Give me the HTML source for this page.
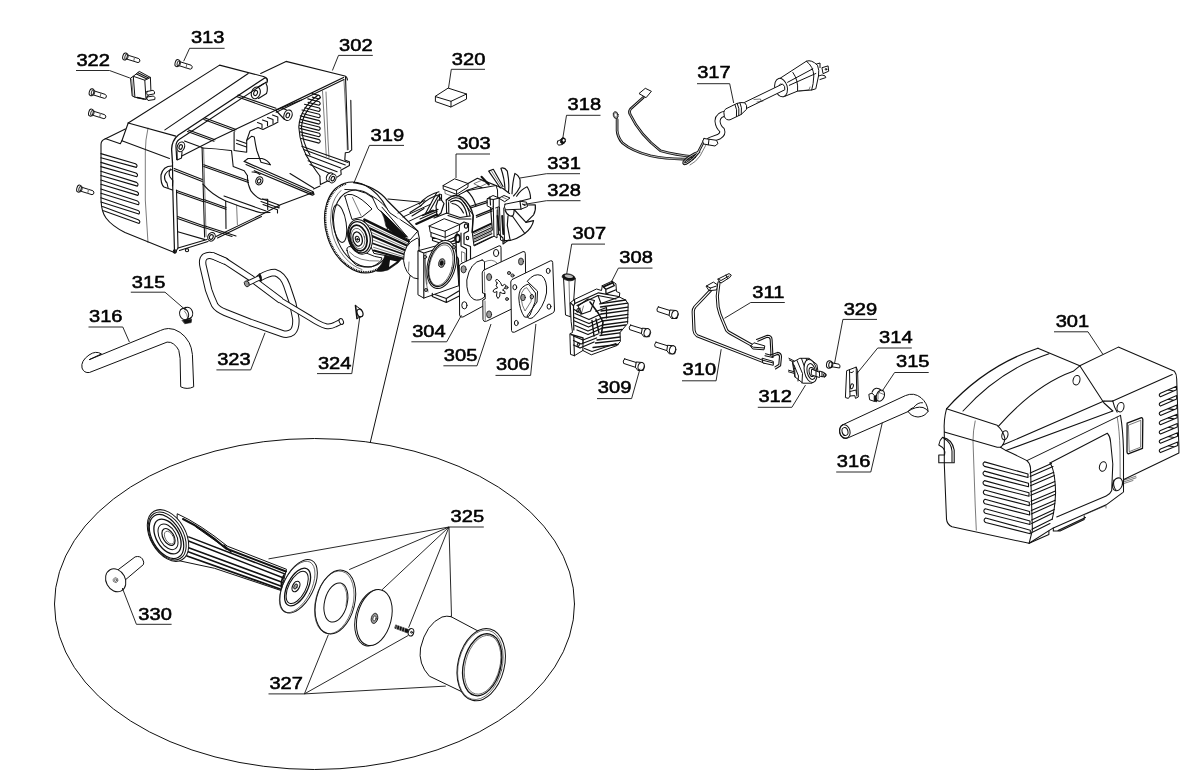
<!DOCTYPE html>
<html><head><meta charset="utf-8"><title>Parts diagram</title>
<style>
html,body{margin:0;padding:0;background:#fff;}
body{width:1191px;height:772px;overflow:hidden;font-family:"Liberation Sans",sans-serif;}
svg{display:block;}
.p{fill:none;stroke:#111;stroke-width:1;stroke-linejoin:round;stroke-linecap:round}
.w{fill:#fff;stroke:#111;stroke-width:1;stroke-linejoin:round;stroke-linecap:round}
.t{fill:none;stroke:#222;stroke-width:0.6;stroke-linejoin:round;stroke-linecap:round}
.k{fill:#111;stroke:#111;stroke-width:0.6;stroke-linejoin:round}
.g{fill:#999;stroke:#111;stroke-width:0.8;stroke-linejoin:round}
</style></head><body>
<svg width="1191" height="772" viewBox="0 0 1191 772">
<rect width="1191" height="772" fill="#fff"/>

<!-- 00_ellipse.svg -->
<g id="ellipse" class="p">
<ellipse cx="314.5" cy="604" rx="260" ry="165.5"/>
<path d="M370.3 442.3L410.3 275"/>
</g>

<!-- 10_housing302.svg -->
<g id="h302" class="p" style="stroke-width:1.1">
<!-- top of front section -->
<path d="M128.2 123L219.6 65.1L263.4 76.5Q267.8 78 267.4 81"/>
<path d="M164.9 129.9L248.2 73.5"/>
<path d="M128.2 123L175.8 136.1"/>
<!-- rim -->
<path d="M172.5 162.7L171.6 149.3Q171.8 140.5 178.4 135L265.1 77.7Q268.5 78.5 266.8 82.8" stroke-width="1.3"/>
<path d="M176.7 159.4L175.9 146Q176 141.5 179.5 139.2L266 82.2" stroke-width="1.1"/>
<!-- chamfer and left face -->
<path d="M128.2 123L121.9 140.7L169.5 158.4"/>
<path d="M125.3 128.9L105 139Q101 140.5 101 144.5L101 200Q101.5 212 106 218Q112 226 125 232.5L175 252.8"/>
<path d="M105.1 138.6L120.3 143.7L121.9 140.7"/>
<path d="M148 128.1Q145.3 140 145.3 152L145.3 200L148 242.6" class="t"/>
<!-- louvers -->
<g id="louv302" stroke-width="1.1">
<path d="M100.9 153.6L135.5 163.7Q138.1 165.3 136.3 167.4L100.9 157.8"/>
<path d="M100.9 162.4L136.0 173.0Q138.6 174.6 136.8 176.7L100.9 166.6"/>
<path d="M100.9 171.3L136.5 182.4Q139.1 184.0 137.3 186.1L100.9 175.5"/>
<path d="M100.9 180.1L137.0 191.7Q139.6 193.3 137.8 195.4L100.9 184.3"/>
<path d="M100.9 189.0L137.5 201.1Q140.1 202.7 138.3 204.8L100.9 193.2"/>
<path d="M100.9 197.8L138.0 210.4Q140.6 212.0 138.8 214.1L100.9 202.0"/>
<path d="M102.5 206.6L138.3 219.7Q140.9 221.3 139.1 223.4L103.5 210.8"/>
</g>
<!-- front rim vertical -->
<path d="M172.5 162.7L172.8 190L174.5 251.5" stroke-width="1.2"/>
<path d="M176.5 190L178 248"/>
<!-- latch -->
<path d="M172 166Q163 166 161 175Q160.5 184 164 187L172.5 190" stroke-width="1.2"/>
<path d="M172.5 169.5Q166 170.5 164.5 176.5Q164.5 181 167 183L168 187.5"/>
<path d="M170.5 169Q168 173 170 177L172.8 180.5L172.5 186"/>
<!-- bolt boss front left -->
<ellipse cx="180.9" cy="146.8" rx="3.6" ry="5" transform="rotate(20 180.9 146.8)"/>
<ellipse cx="180.7" cy="147" rx="1.6" ry="2.4" transform="rotate(20 180.7 147)"/>
<path d="M177 151.5L177.2 160L181.5 158L182 152"/>
<!-- deck front edge and ribs -->
<path d="M181.8 156L214.6 139.2L275.5 110.3L301.4 100"/>
<path d="M184.5 141L202.1 147.6"/>
<path d="M187.5 131.5L214 141.3M188.5 130L215 139.8"/>
<path d="M203.8 119.4L234.9 131.1M205 118L236 129.6"/>
<path d="M236.5 96.5L274.5 110M238 95L276 108.3"/>
<path d="M202.1 148Q215 148.5 230.7 150.5"/>
<!-- bolt boss top -->
<ellipse cx="255.8" cy="92.9" rx="4.3" ry="6" transform="rotate(20 255.8 92.9)"/>
<ellipse cx="255.6" cy="93" rx="1.8" ry="2.6" transform="rotate(20 255.6 93)"/>
<path d="M257.5 87.2L264 83.5M258.5 98.5L266.5 93.5Q268.5 88 266 83.5"/>
<!-- vertical wall -->
<path d="M202.1 148L204.6 237"/>
<path d="M203.6 148L206.1 236.5" class="t"/>
<!-- horizontal ribs front section -->
<path d="M174.2 168.6L202.3 179.6M174.2 170.4L202.3 181.4"/>
<path d="M176.5 190.5L202.8 199.8M176.5 192.3L202.8 201.6"/>
<path d="M177.5 216.6L204 225.9M177.5 218.4L204 227.7"/>
<path d="M177.8 231.8L205 239.6"/>
<!-- bottom edge front -->
<path d="M175 252.8L178 248L207 239.5M179.5 250.5L208 241.5"/>
<circle cx="174.8" cy="251.5" r="1.6"/><circle cx="187" cy="250.2" r="1.6"/>
<!-- boss bottom -->
<ellipse cx="211.5" cy="236.8" rx="3.6" ry="4.4" transform="rotate(25 211.5 236.8)"/>
<ellipse cx="211.3" cy="237" rx="1.8" ry="2.4" transform="rotate(25 211.3 237)"/>
<!-- bottom edge rear -->
<path d="M216 236.5L260.7 215L281 204.5L313 192.5M217.5 238L261.5 216.5"/>
<!-- step profile interior -->
<path d="M234.1 132L234.1 150.5L246.7 152.2L246.7 140.4L251.8 136.2L254.3 137Q255.5 145 256.8 150.5L261 162.3L270.3 164.8"/>
<path d="M231.5 150.5L233.2 166.5L244.2 170.7L247.5 175.8"/>
<path d="M236.5 140L246.5 143.5M236.5 143.5L246.5 147"/>
<!-- comb fins -->
<path d="M257.5 122.5L262 124.2L262 128M262.5 120L267.5 121.8L267.5 125.8M267.5 117.5L273 119.5L273 123.5M272.5 115L277.8 117L277.8 121"/>
<path d="M246.7 140.4L250 131L258 127.5L263 129.5L268 127L273.5 124.5L278 122"/>
<!-- boss deck right -->
<ellipse cx="288" cy="115.2" rx="4" ry="5.4" transform="rotate(20 288 115.2)"/>
<ellipse cx="287.8" cy="115.3" rx="1.7" ry="2.5" transform="rotate(20 287.8 115.3)"/>
<path d="M276 110.5L284.5 119.5M281.5 107.8L286.5 110"/>
<!-- rear section top -->
<path d="M260.7 73.5L286 61.4L344.9 76Q347 76.5 347.5 80"/>
<path d="M275.5 110.3L343.5 77.5" stroke-width="1.3"/>
<path d="M276.2 112.2L344 79.5"/>
<!-- rear right side -->
<path d="M345.5 77L348 149.5"/>
<path d="M344 80.3L346.7 130L347.3 150" class="t"/>
<path d="M350.8 100.4L351.7 149.9L348.9 152.2L345.3 152.7L344.8 159.9L349.4 161.7L349.4 165.4L340.8 170.3L341.2 174.4L337.1 177.1"/>
<path d="M322.5 91L324.9 130L326.3 156.3" class="t"/>
<path d="M326 92L328 140L329 157.5" class="t"/>
<!-- fan grille arc -->
<path d="M318.2 95Q300 108 298.8 127Q300 148 311.5 164Q316 171 319.9 176"/>
<path d="M320.5 97.5Q303 110 301.5 127Q302.5 143 310 155"/>
<!-- grille bars -->
<g id="fanbars" stroke-width="1.1">
<path d="M312.0 93.6L319.3 95.5Q321.3 97.4 319.0 99.0L312.3 97.1"/>
<path d="M307.8 98.9L319.3 101.8Q321.3 103.7 319.0 105.2L308.1 102.4"/>
<path d="M304.5 104.3L319.3 108.0Q321.3 110.0 319.0 111.5L304.8 107.8"/>
<path d="M302.0 110.0L319.3 114.3Q321.3 116.2 319.0 117.8L302.3 113.5"/>
<path d="M300.3 115.9L319.3 120.6Q321.3 122.5 319.0 124.1L300.6 119.4"/>
<path d="M299.4 122.0L319.3 127.0Q321.3 128.8 319.0 130.4L299.7 125.5"/>
<path d="M299.8 128.4L319.3 133.2Q321.3 135.2 319.0 136.8L300.1 131.9"/>
<path d="M301.1 135.0L319.3 139.6Q321.3 141.5 319.0 143.1L301.4 138.5"/>
</g>
<!-- rear bottom rails -->
<path d="M301.8 146.3L348 162.6M303.6 149.5L345.3 164.9M305.4 154.5L340.8 168.1M308.1 160.8L337.1 171.7M309.9 164.5L329.9 173.5"/>
<ellipse cx="329.9" cy="177.1" rx="3.3" ry="4.6" transform="rotate(25 329.9 177.1)"/>
<ellipse cx="332.6" cy="178.5" rx="3.3" ry="4.6" transform="rotate(25 332.6 178.5)" class="w"/>
<ellipse cx="332.8" cy="178.6" rx="1.6" ry="2.3" transform="rotate(25 332.8 178.6)"/>
<path d="M319.9 176.2L320.4 184.4L327.2 181.2M320 186L313.6 188.9"/>
<path d="M290 173.5L313.6 188" />
<!-- middle rail -->
<path d="M244.2 161.4L313.2 191.8L314 194.5L312.4 195.1L254.3 170.7" stroke-width="1.2"/>
<path d="M246 164.5L312.6 193.6"/>
<path d="M248 158.5L262 158.5Q268 160 270.3 164.8M244.2 161.4L248 158.5"/>
<ellipse cx="259.3" cy="180.8" rx="3.4" ry="4.2" transform="rotate(25 259.3 180.8)"/>
<ellipse cx="259.1" cy="181" rx="1.6" ry="2.2" transform="rotate(25 259.1 181)"/>
<path d="M247.5 175.8Q247 183 250.9 190.9Q255 196.5 261 199.3L267.7 199.3L267.7 209.5"/>
<path d="M252 172Q256 171.5 260 174.5"/>
<path d="M261 201.5L279 208L279 205L262.5 199M263 204.5L277.5 209.8L277.5 213"/>
<!-- lower rails -->
<path d="M203.8 164.8L248 180.5M203.8 166.6L248.5 182.5"/>
<path d="M202.9 184.2Q212 195 225.7 201Q243 208 261 212.8L270 212.5"/>
<path d="M225.7 201L226 228.5"/>
<path d="M204.5 199.8L226 207.5M204.5 201.6L226 209.3"/>
<path d="M224 196L266 211"/>
<path d="M236.6 205.2L237.4 224.6" class="t"/>
<path d="M205 225.9L236 236M205 227.7L232 236.5"/>
</g>

<!-- 20_housing301.svg -->
<g id="h301" class="p" style="stroke-width:1.05">
<!-- front curved top -->
<path d="M946.5 408.8Q985 366 1037.9 348.2" stroke-width="1.2"/>
<path d="M963 411Q1000 370 1049 353.7"/>
<path d="M998.3 426.4Q1035 385 1073.2 371.3L1079.8 365.8"/>
<path d="M1037.9 348.2L1079.8 365.8"/>
<path d="M946.5 408.8L997.2 425.3Q1003.5 431 1004.9 438.5Q1004.5 444 1000.5 447.3"/>
<path d="M946.5 408.8Q943.5 420 944.3 431.9L997.2 447.3L1000.5 447.3"/>
<!-- junction slanted -->
<path d="M1079.8 365.8L1104 403L1112.8 411"/>
<!-- shoulder lines -->
<path d="M1002.7 445.1L1104 401.1"/>
<path d="M1000.5 447.3L1006 450.6L1112.8 411"/>
<path d="M1006 450.6Q1018 456 1026.9 460.6L1120.5 415.4"/>
<!-- body -->
<path d="M944.3 431.9L944.3 464L946.5 519.1Q947 524.5 952 526.8L1029.1 543.3L1053.3 527.9L1106.2 504.8L1122.7 492.7"/>
<path d="M975.2 420.9Q973 431 973 440.7L975.2 505L976.3 530.1" class="t"/>
<path d="M1026.9 460.6Q1030 463 1030.5 468L1032.4 530.1L1029.1 543.3"/>
<!-- latch -->
<path d="M942.5 437.4Q952 439 954.2 450L954.2 462.8L938.8 462.8L938.8 455L944.5 455Q946.5 449 938.8 445Q939.5 440 942.5 437.4Z" stroke-width="1.1"/>
<path d="M944 438.5Q951 442 952 451L952 462"/>
<!-- circles -->
<ellipse cx="1004.9" cy="435.2" rx="3" ry="4.6" transform="rotate(15 1004.9 435.2)"/>
<ellipse cx="1076.5" cy="380.2" rx="3.4" ry="4.8" transform="rotate(15 1076.5 380.2)"/>
<ellipse cx="1120.5" cy="407.2" rx="3.4" ry="4.8" transform="rotate(15 1120.5 407.2)"/>
<ellipse cx="1102.9" cy="466.5" rx="3.4" ry="4.8" transform="rotate(15 1102.9 466.5)"/>
<ellipse cx="1117.5" cy="484.3" rx="4.8" ry="6.6" transform="rotate(20 1117.5 484.3)"/>
<path d="M1114 480Q1112.5 486 1116 490"/>
<path d="M1122.7 480.6L1135.9 476.2M1122.9 482.2L1136.1 477.8M1123 483.8L1133 480.5" class="t"/>
<!-- side strip -->
<path d="M1120.5 415.4Q1123 430 1123.5 450L1123.5 492"/>
<path d="M1117.2 417Q1119.5 430 1120 450L1120.2 478" class="t"/>
<!-- side panel -->
<path d="M1050 463L1107.3 433.2Q1110.5 437 1110.6 442L1112.8 464L1111.7 490.5Q1110 494.5 1106.2 496L1056.7 516.9"/>
<path d="M1050 463Q1055 470 1055.6 492.7Q1055 508 1052.2 519.1"/>
<!-- grille front -->
<g id="g301a" stroke-width="1.1">
<path d="M984.5 461.9L1028 474L1028 477.5L984.5 466.4Q981.5 464 984.5 461.9ZM1030.2 473L1051.5 463.5M1030.2 476.5L1053 466.5"/>
<path d="M984.5 471.1L1028.5 483.3L1028.5 486.8L984.5 475.6Q981.5 473.2 984.5 471.1ZM1030.5 482.3L1053.8 472.3M1030.5 485.8L1054.3 475.6"/>
<path d="M984.5 480.6L1029 492.8L1029 496.3L984.5 485.1Q981.5 482.7 984.5 480.6ZM1030.8 491.8L1054.8 481.6M1030.8 495.3L1055.2 484.9"/>
<path d="M984.8 490L1029.3 502.2L1029.3 505.7L984.8 494.5Q981.8 492.1 984.8 490ZM1031 501.2L1055.4 490.9M1031 504.7L1055.4 494.2"/>
<path d="M985 499.3L1029.6 511.5L1029.6 515L985 503.8Q982 501.4 985 499.3ZM1031.3 510.5L1055.2 500.2M1031.3 514L1054.8 503.5"/>
<path d="M985.3 508.8L1030 521L1030 524.5L985.3 513.3Q982.3 510.9 985.3 508.8ZM1031.6 520L1054.3 509.5M1031.6 523.5L1053.6 512.8"/>
<path d="M985.6 518L1030.3 530.2L1030.3 533.7L985.6 522.5Q982.6 520.1 985.6 518ZM1031.9 529.2L1052.5 519M1031.9 532.5L1050 523.5"/>
</g>
<!-- feet -->
<path d="M1053.3 527.9L1053.3 531L1060 531L1084.2 519.5L1084.2 515.8M1058 530.5L1085.5 517.5"/>
<path d="M1029.1 543.3L1048.9 534.5L1048.9 531"/>
<path d="M1086 514L1106 505.5L1106 508" class="t"/>
<!-- rear section -->
<path d="M1079.8 365.8L1118.3 347.1L1174.5 371.3Q1176.8 374 1176.7 379L1178.9 447.3L1178.9 453L1123.8 479.5"/>
<path d="M1112.8 401.1L1172.3 374.6"/>
<path d="M1112.8 401.1Q1114 407 1117.2 412.1"/>
<path d="M1104 401.1L1112.8 401.1"/>
<!-- window -->
<path d="M1127.1 423.1L1141.5 417.6Q1142.8 417.8 1142.8 419.5L1142.5 448.4L1128.2 453.9Q1127 453.5 1127 452Z" stroke-width="1.3"/>
<path d="M1128.8 425L1140.8 420.3L1140.6 447.2L1129.6 451.5Z" class="t"/>
<!-- grille rear -->
<g id="g301b" stroke-width="1.1">
<path d="M1160.5 393.2L1176.5 386.3L1176.5 389.8L1160.5 396.8Q1158 395 1160.5 393.2ZM1168 390L1174 391"/>
<path d="M1160.5 402.5L1176.7 395.6L1176.7 399.1L1160.5 406.1Q1158 404.3 1160.5 402.5ZM1168 399.3L1174 400.3"/>
<path d="M1160.5 411.8L1176.9 404.9L1176.9 408.4L1160.5 415.4Q1158 413.6 1160.5 411.8ZM1168 408.6L1174 409.6"/>
<path d="M1160.5 421.1L1177.1 414.2L1177.1 417.7L1160.5 424.7Q1158 422.9 1160.5 421.1ZM1168 417.9L1174 418.9"/>
<path d="M1160.5 430.4L1177.3 423.5L1177.3 427L1160.5 434Q1158 432.2 1160.5 430.4ZM1168 427.2L1174 428.2"/>
<path d="M1160.5 439.7L1177.5 432.8L1177.5 436.3L1160.5 443.3Q1158 441.5 1160.5 439.7ZM1168 436.5L1174 437.5"/>
<path d="M1160.5 449L1177.7 442.1L1177.7 445.6L1160.5 452.6Q1158 450.8 1160.5 449ZM1168 445.8L1174 446.8"/>
</g>
</g>

<!-- 30_flywheel.svg -->
<g id="fly" class="p">
<!-- belt guard line / motor mount behind -->
<path d="M388 199L419.3 202"/>
<path d="M398 213L425 200.5M403 217L430 204.5M408.5 221.5L433 210"/>
<!-- flywheel outer -->
<ellipse cx="359" cy="227.5" rx="33" ry="46.5" transform="rotate(-18 359 227.5)" class="w" stroke-width="1.1"/>
<path d="M346.0 183.8A32.1 45.6 -18 1 0 385.8 261.1" stroke-width="1.9" stroke-dasharray="1 0.8" stroke-linecap="butt"/>
<path d="M341 190.5A30.5 44 -18 0 0 362 269.5" class="t"/>
<ellipse cx="362" cy="228.5" rx="27" ry="39.5" transform="rotate(-18 362 228.5)"/>
<path d="M344.8 189.4Q368 188 382 207Q390 222 386.5 233"/>
<!-- spoke openings -->
<ellipse cx="339.6" cy="223.6" rx="6.6" ry="19" transform="rotate(-9 339.6 223.6)"/>
<path d="M344.8 196.1Q347 193.5 352.2 194.6Q362 198 372 209L362 217L352 219.5Q348 207 344.8 196.1Z"/>
<path d="M352.5 197.5L361 215.5" class="t"/>
<path d="M347 250.4Q346 247 350 246.5L374.6 256.4L382 257.9Q381 263 371.6 266.8Q364 268 356.7 265.3Q349 260 347 250.4Z"/>
<path d="M349.5 252Q358 262 379 261" class="t"/>
<!-- belt dark region -->
<path d="M372 196Q384 203 390 213L417.8 231.1L410 240L404 237.5Q394 222 378 209Z" fill="#fff"/>
<path d="M381 211L407.4 237L399 238.5L386 226.5Q384.5 217 381 211Z" class="k"/>
<path d="M353.7 182.7Q376 186 388 201.3L417.8 231.1" stroke-width="1.3"/>
<path d="M382 207.2L407.4 237"/>
<path d="M386 204L412 234" stroke="#fff" stroke-width="0.7"/>
<!-- lower belt/flywheel dark -->
<path d="M385 255L402 258.5L398 263L388 270Q380 272.5 376 271Q383 264 385 255Z" class="k"/>
<path d="M390 260L397 261.5L389 267Z" fill="#fff" stroke="none"/>
<!-- conrod -->
<path d="M364.4 219.7L408.9 241.3L403.5 258.8L373.9 253.4L368 240Z" class="w"/>
<path d="M364.4 219.7L408.9 241.3" stroke-width="2.6"/>
<path d="M370 228.5L407.3 245.8" stroke-width="2.2"/>
<path d="M372 236L405.8 250.5" stroke-width="2.2"/>
<path d="M373 243.5L404.6 254.5" stroke-width="1.8"/>
<path d="M373.9 250.5L403.5 258.8" stroke-width="2"/>
<path d="M368 224.8L408 243.8M371.5 232.5L406.5 248.3M372.8 240L405 252.7M373.5 247.3L404 256.8" class="t"/>
<!-- hub -->
<ellipse cx="360" cy="236.8" rx="12" ry="17.6" transform="rotate(-14 360 236.8)" class="w" stroke-width="1.8"/>
<ellipse cx="359.3" cy="237.2" rx="10.6" ry="15.9" transform="rotate(-14 359.3 237.2)" stroke-width="1.3"/>
<ellipse cx="358.4" cy="238" rx="8.4" ry="13" transform="rotate(-14 358.4 238)" stroke-width="1.8"/>
<ellipse cx="358" cy="238.5" rx="6.6" ry="10.4" transform="rotate(-14 358 238.5)" class="t"/>
<ellipse cx="357.6" cy="239" rx="4.6" ry="7.2" transform="rotate(-14 357.6 239)" stroke-width="1.3"/>
<ellipse cx="357.4" cy="239.2" rx="2" ry="3" transform="rotate(-14 357.4 239.2)"/>
<circle cx="357.4" cy="239.3" r="0.8" fill="#111"/>
<!-- piston dome -->
<path d="M416.8 238.2Q403 244 403.6 260.8Q405 273 413.7 277.9L419 279L419 240Z" class="w"/>
<path d="M409 262L408.5 271" class="t"/>
</g>

<!-- 31_motor.svg -->
<g id="motor" class="p" style="stroke-width:1.15">
<!-- mount plate lines from flywheel to motor -->
<path d="M417.8 231.1Q420 238 419.5 246"/>
<path d="M410 212.5L421.4 205.2M412 216L424 208.5"/>
<path d="M416.2 223.9L436.9 214.6" stroke-width="2.2"/>
<path d="M422.4 215.6L438 209.4M420 219L437 211.5"/>
<!-- bracket arcs -->
<path d="M419.3 204.2Q426.6 195 439 191.8M420.5 206Q428 197.5 440.5 194.3" stroke-width="1.1"/>
<path d="M425.5 213.5L436.4 193.3M428.5 213L438.5 195.5L441 199"/>
<path d="M425.5 213.5L434 210.5"/>
<path d="M438 200L441.5 200L444 203.5L441 213L437 216.5L436 206Z" stroke-width="1.2"/>
<path d="M439.5 194L439.5 200M441.5 194.5L441.5 200"/>
<!-- block A -->
<path d="M443.2 185.5L454.6 178.8L468 183.5L456.6 190.2ZM443.2 185.5L443.2 189.2L456.6 194.4L456.6 190.2M456.6 194.4L468 187.1L468 183.5" class="w"/>
<path d="M445 190.5L445 193.5L455.5 197.5L466.5 190.5" class="t"/>
<!-- block behind A -->
<path d="M468 183.5L477.4 178.3L486.7 181.9L496 185.5"/>
<path d="M474.2 183.5L481.5 180.4L487.7 183L480.5 186.6Z" class="t"/>
<path d="M481.5 176.7L488.8 184.5" stroke-width="2"/>
<path d="M466.5 190.5L478.5 186.5L484 188.5"/>
<!-- motor body -->
<path d="M458.7 194.9L467 190.7L496 185.5L497.5 190L498.5 234L474 246L472.2 232.2L473.2 215.6Z" class="w"/>
<path d="M467 190.7Q473 196 476 206"/>
<path d="M470.6 206.3L489.8 200M471.2 207.8L490.2 201.6"/>
<path d="M476.3 215.6L491.9 209.4M476.5 217.2L492.1 211"/>
<path d="M489.8 197L492.3 230"/>
<!-- end bell arcs -->
<path d="M446.3 200Q455 192 463 198Q471 205 473.2 215.6L472.2 232.2" stroke-width="1.4"/>
<path d="M448.4 201Q455.5 195 462 200Q468.5 206 470 216" stroke-width="1.1"/>
<path d="M450.4 202.1Q456 198.5 461 202.5Q466 208 467 216"/>
<path d="M452 203.5Q459 204 463.5 213"/>
<path d="M446.3 200L446.6 213M448.6 202.5L448.8 212.5" stroke-width="1.1"/>
<path d="M446.6 213L460 217.5L470 216M448 215.5L459 219L471 219"/>
<path d="M434 218L447 213"/>
<!-- lamination stack -->
<path d="M473.2 232.2L490.8 223.9" stroke-width="2"/>
<path d="M473.6 236L491.2 227.7M473.9 239L491.5 230.7M474.2 242L491.8 233.7M474.6 245L492.1 236.7" stroke-width="1.2"/>
<path d="M473.4 234L491 225.8M473.8 237.5L491.3 229.2M474 240.5L491.6 232.2" class="t"/>
<!-- brush holder and posts -->
<path d="M487.5 198.5L493 195.5L499.2 198L499.2 206.6L493.3 209L487.5 206Z" class="w" stroke-width="1.1"/>
<path d="M490 197.3L490.5 205M493.3 199.5L493.3 209M487.5 198.5L493.3 199.5L499.2 198"/>
<path d="M493.3 206.6L494 236L497 238L497.2 210M499.5 207L500.5 240L504.5 241.5L503.8 208" class="w"/>
<path d="M497.5 216L499 230" stroke-width="1.8"/>
<path d="M502.2 216L503.3 234" stroke-width="2"/>
<path d="M498.5 234L503 238L503 244L508.5 240"/>
<path d="M496 185.5L503 188.5L509.5 193.5"/>
<path d="M499.2 198L504 195.5L510 198L505 201.5Z" class="w"/>
<path d="M502 197L506.5 199" class="t"/>
<!-- brush arm 328 -->
<path d="M505 204.2L520 201.2L526.5 202.2L527.5 206.5L521 209.2L505.5 209.8Q503.5 207 505 204.2Z" class="w" stroke-width="1.1"/>
<path d="M520 201.2L521 209.2M522.5 204L525 205.5"/>
<path d="M505 210Q507 216 512.5 216.5Q514.5 213 514 209.5" />
<!-- fan -->
<g id="fan">
<path d="M500.3 188L488.7 171.1L493.3 169.3L503 186.5"/>
<path d="M491.5 171L501.8 187.2" class="t"/>
<path d="M505 189.2Q504.5 178 500.9 168.2Q504.5 167 507.3 171.1Q509.5 182 508.5 192"/>
<path d="M512 193.8Q512.5 182 514.9 173.4Q519 175.5 520.1 179.8L520.1 186.8Q517 193 513.5 196"/>
<path d="M516.6 196.2Q521 189.5 527.1 186.8Q530.5 192 530.6 198.5L520 201.2"/>
<path d="M527.5 205L535.3 204.9Q536 210.5 533.6 214.8L526 222.4L514.5 210"/>
<path d="M526 222.4L533.6 220.6Q532 228 524.8 233.5L512 215.5"/>
<path d="M524.8 233.5L521.3 235.8Q516 239.5 510.2 240.5L507.3 225.3L508 216"/>
<path d="M510.2 240.5Q506 241 503.5 240"/>
</g>
<!-- block B terminal -->
<path d="M429.2 226L444.2 218.7L459.7 224.4L445.2 231.1ZM429.2 226L430.2 232.2L445.2 237.4L445.2 231.1M445.2 237.4L459.2 231.1L459.7 224.4" class="w"/>
<path d="M431 232.8L431 236.8L445.2 241.5L457 236L457 232M432.5 237.5L432.5 240.5L445.2 244.8L456 239.5L456 236.5"/>
<path d="M445.2 237.4L445.2 244.8" class="t"/>
<!-- right support of cylinder -->
<path d="M459.7 224.4L464 222L468.5 223.5L468.5 231L464 233.5L464 244L470.5 246.5L470.5 290"/>
<path d="M461 233L461 246L466.5 249L466.5 288"/>
<ellipse cx="466" cy="226" rx="1.6" ry="2.2"/>
<ellipse cx="467.5" cy="237.9" rx="1.2" ry="1.7"/>
<path d="M456 240.5L456 256Q459 258 458.5 262L458.8 285.7" stroke-width="1.3"/>
<ellipse cx="457.5" cy="238.4" rx="2.4" ry="3.8" stroke-width="1.8"/>
<path d="M461.5 252L461.5 262L465 263.5L465 253.5Z" class="t"/>
<path d="M461.5 268L461.5 280L465 281.5L465 269.5Z" class="t"/>
<!-- cylinder plate -->
<path d="M418.3 250.7L455.7 240.6L458.8 285.7L423.8 298.1L418.3 295Z" class="w" stroke-width="1.2"/>
<path d="M418.3 250.7L423.8 253L423.8 298.1M423.8 253L455.7 243"/>
<path d="M432.3 293.4L432.3 296.5L446.3 302.5L460.3 295.5L460.3 289M446.3 302.5L446.3 298.5L435 294.5M446.3 298.5L458.8 291"/>
<!-- disc -->
<ellipse cx="441.7" cy="264.5" rx="14" ry="24.5" transform="rotate(14 441.7 264.5)" class="w" stroke-width="1.5"/>
<ellipse cx="441.4" cy="264.8" rx="12.3" ry="22.3" transform="rotate(14 441.4 264.8)" stroke-width="1.2"/>
<ellipse cx="441" cy="265.2" rx="11.2" ry="20.8" transform="rotate(14 441 265.2)" class="t"/>
<ellipse cx="441.7" cy="263.1" rx="3" ry="4.5" transform="rotate(14 441.7 263.1)" class="g"/>
<ellipse cx="441.7" cy="263.1" rx="1.3" ry="2" transform="rotate(14 441.7 263.1)" fill="#111"/>
<path d="M424.5 256L427 284M426 253.5Q423 270 428 292" class="t"/>
<circle cx="426" cy="290" r="1.6" class="g"/><circle cx="425" cy="257" r="1.6" class="g"/><circle cx="454" cy="247" r="1.6" class="g"/>
</g>

<!-- 40_plates.svg -->
<g id="plates" class="p">
<!-- 304 -->
<path d="M461.5 263.5L499 245.8Q501 245.3 501 247.5L501.5 296L463 317Q459.7 318 459.6 315L459.3 266Q459.5 264.3 461.5 263.5Z" class="w" stroke-width="1.1"/>
<path d="M482.1 260Q470 262 466.8 280Q466 295 474 299.5Q479 301.5 484.5 297L484.5 262Q483.5 260 482.1 260Z" />
<path d="M484.5 262Q492 258 497 263L497 290" class="t"/>
<ellipse cx="463.6" cy="269.3" rx="2.6" ry="3.6" class="g"/>
<ellipse cx="496.1" cy="253" rx="2.6" ry="3.6"/>
<ellipse cx="464.4" cy="305.3" rx="2.6" ry="3.6"/>
<!-- 305 -->
<path d="M484 270L523 251.6Q525.2 251 525.3 253.5L526 302L486.5 321.2Q483.3 322.3 483 319.5L482.8 300L485.2 299L485.2 293.5L482.5 293L482.2 273Q482.3 270.8 484 270Z" class="w" stroke-width="1.1"/>
<path d="M484.4 272L484.8 292M485 301L485.3 320" class="t"/>
<ellipse cx="489.1" cy="277.1" rx="2.5" ry="3.5" class="g"/>
<ellipse cx="521" cy="261.5" rx="2.5" ry="3.5" class="g"/>
<ellipse cx="489.1" cy="314.4" rx="2.5" ry="3.5" class="g"/>
<path d="M497 283Q494 279 497.5 279.5Q501 282 502 286Q505 283 506 285.5Q505.5 288.5 502.5 290Q506 291 505 293.5Q502 294 500 292Q500.5 297 498 298.5Q495.5 297 497 291.5Q493.5 293.5 493 291Q494 288.5 497.5 288Q495 285.5 497 283Z"/>
<circle cx="509" cy="273" r="1.6" class="g"/><circle cx="512.5" cy="275.5" r="1.6" class="g"/><circle cx="507" cy="299" r="1.5" class="g"/><circle cx="506.5" cy="287.5" r="1.5" class="g"/>
<!-- 306 -->
<path d="M512.6 279.3L550.5 260.8Q552.6 260.2 552.7 262.5L554.5 310Q554.5 312.2 552.5 313.2L514.5 332.2Q511.7 333 511.5 330.5L510.8 282Q510.9 280 512.6 279.3Z" class="w" stroke-width="1.1"/>
<ellipse cx="548.2" cy="270.9" rx="1.9" ry="2.6"/>
<ellipse cx="514.8" cy="287.2" rx="1.9" ry="2.6"/>
<ellipse cx="549" cy="306.6" rx="1.9" ry="2.6"/>
<ellipse cx="516.3" cy="323" rx="1.9" ry="2.6"/>
<path d="M527.5 281Q534 272.5 541.5 275.5Q547.5 280 546.5 293Q544 307 533 317.5Q528.5 320 527 316L537 302L537.5 291.5Z"/>
<path d="M523.5 286.5Q519 289 518.8 298Q519.5 310 524.5 317Q527.5 318.5 530 315L535 302L535.5 293L528.5 284Q525.5 285 523.5 286.5Z"/>
<path d="M524 289Q521 292 521 298Q522 306 525 311L531 301.5L531.5 294.5L527 288Z" class="t"/>
<ellipse cx="523" cy="297.5" rx="2.3" ry="3.2" class="g"/>
<ellipse cx="531.8" cy="296.7" rx="1.6" ry="2.3"/>
</g>

<!-- 41_head.svg -->
<g id="head" class="p" style="stroke-width:1.1">
<!-- 307 tube -->
<path d="M563.6 279L565.5 315L572.5 317.5L575.2 279Z" class="w"/>
<path d="M569 281L570 316" class="t"/>
<ellipse cx="568.6" cy="277.3" rx="6.6" ry="3.4" transform="rotate(10 568.6 277.3)" class="k"/>
<ellipse cx="568.8" cy="276.3" rx="4.2" ry="1.6" transform="rotate(10 568.8 276.3)" fill="#bbb" stroke="none"/>
<!-- 308 head body -->
<path d="M570.5 302.6L574.4 299.5L596.5 289L601.5 290.5L602.3 285.7L612 281.2L615.9 283.8L616.5 291.6L619.8 292.9L619.3 297L625.6 300L628.2 303.9L627.6 323.5L620 332.5L620.4 341.4L617 345.5L591.3 354.8L582.9 350.5L574.4 355.7L570.5 354.4L569.9 333.7L572.5 332.5L571.2 322Z" class="w" stroke-width="1.3"/>
<!-- top plate -->
<path d="M574.4 299.5L574.8 303.5L598.5 292.8L618.5 296.5" stroke-width="1.2"/>
<path d="M570.5 302.6L573.5 305.8L574.8 303.5M573.5 305.8L573.8 330" stroke-width="1.2"/>
<path d="M577 305.5L598 295.5L616 299" />
<path d="M598 295.5L601 303.5L619.3 297"/>
<!-- port block -->
<path d="M602.3 285.7L605.8 289.3L614.3 285.6L612 281.2M605.8 289.3L606 293.8L615.5 290" stroke-width="1.3"/>
<path d="M603.8 286.6L612.8 282.6" stroke-width="1.8"/>
<!-- cover on top-left -->
<path d="M578 306L582 314L590.5 311L594.5 300.5L588 299Z" stroke-width="1.1"/>
<path d="M580.5 308Q578.5 312 580.8 315M583.5 306L581 315" class="t"/>
<ellipse cx="577.8" cy="310.3" rx="1" ry="1.9" transform="rotate(20 577.8 310.3)"/>
<!-- right fins -->
<g stroke-width="1.3">
<path d="M599.7 303.9L625.6 300M600.5 307L627.8 303.2"/>
<path d="M601 311L627.8 307.2M601.3 314L627.8 310.4"/>
<path d="M602 318L627.8 314.4M602.3 321L627.8 317.6"/>
<path d="M602.5 325L627.6 321.6M602.5 328L625.5 325"/>
<path d="M601 332.5L622 329.5M600 335.5L620 332.8"/>
<path d="M597 340L620 337M595.5 343L619.5 340.3"/>
<path d="M593 347.5L618 344.5"/>
</g>
<!-- left/front fins -->
<g stroke-width="1.3">
<path d="M574 309.5L581.5 313.5M575 313.5L589 319.5L601 314"/>
<path d="M574.4 317.5L589 323.5L602 318M574.4 321L588.5 327L602.3 321"/>
<path d="M575 325.5L588 331L602.5 325M577 330L588 334.5L602.5 328"/>
<path d="M573.5 336L583 340L598 334M573.5 340.5L581 344L596.5 338"/>
<path d="M573.5 345L580 348L594 342"/>
</g>
<!-- center dark web -->
<path d="M590 302L598.5 313.5L603 322L601.5 334" stroke-width="1.6"/>
<path d="M596 311.5L606.5 307.5L606.5 318" stroke-width="1.2"/>
<path d="M596 319L599 333M592 320.5L594 336" stroke-width="1.4"/>
<!-- lower flange -->
<path d="M571 334.5L583 337.8L583 342.5" stroke-width="1.4"/>
<path d="M573.8 336L574.4 355.7M582.9 350.5L583 342.5"/>
<path d="M584.5 348.5L592 351.5L616 343.5" />
<ellipse cx="578.3" cy="344.7" rx="1" ry="1.9" transform="rotate(20 578.3 344.7)"/>
</g>
<g id="bolts309" class="p" style="stroke-width:1.2">
<g id="b309a"><path d="M658.3 306.9L671 310.8L670 315.6L657.3 311.4Q656 309 658.3 306.9Z" class="w"/><path d="M670.3 310L676 310.5L678.4 314L677 318.5L671.5 318.5L669.3 315.5Z" class="w"/><ellipse cx="674.8" cy="314.5" rx="3" ry="4.1" transform="rotate(15 674.8 314.5)" class="w"/></g>
<g id="b309b"><path d="M630.6 325.1L643.3 329L642.3 333.8L629.6 329.6Q628.3 327.2 630.6 325.1Z" class="w"/><path d="M642.6 328.2L648.3 328.7L650.7 332.2L649.3 336.7L643.8 336.7L641.6 333.7Z" class="w"/><ellipse cx="647.1" cy="332.7" rx="3" ry="4.1" transform="rotate(15 647.1 332.7)" class="w"/></g>
<g id="b309c"><path d="M656 342.2L668.7 346.1L667.7 350.9L655 346.7Q653.7 344.3 656 342.2Z" class="w"/><path d="M668 345.3L673.7 345.8L676.1 349.3L674.7 353.8L669.2 353.8L667 350.8Z" class="w"/><ellipse cx="672.5" cy="349.8" rx="3" ry="4.1" transform="rotate(15 672.5 349.8)" class="w"/></g>
<g id="b309d"><path d="M624.6 358.9L637.3 362.8L636.3 367.6L623.6 363.4Q622.3 361 624.6 358.9Z" class="w"/><path d="M636.6 362L642.3 362.5L644.7 366L643.3 370.5L637.8 370.5L635.6 367.5Z" class="w"/><ellipse cx="641.1" cy="366.5" rx="3" ry="4.1" transform="rotate(15 641.1 366.5)" class="w"/></g>
</g>

<!-- 42_tubes.svg -->
<g id="tubes" class="p">
<!-- 310 loop -->
<path d="M771.8 356.8L777.2 354.4Q779.5 354.6 779.5 356.8L778.8 364.5L774.9 366.9" stroke-width="1.1"/>
<path d="M770.5 355L777.5 352.4Q781.5 352.8 781.5 356.8L780.6 365.8L775.5 369" stroke-width="1.1"/>
<!-- 310 tube -->
<path d="M710.3 290.7L694.8 307Q693.2 309 693.2 311.7L694 330.3Q694.5 334 697.1 335.8L764.8 362.2" stroke="#111" stroke-width="3.2"/>
<path d="M710.3 290.7L694.8 307Q693.2 309 693.2 311.7L694 330.3Q694.5 334 697.1 335.8L764.8 362.2" stroke="#fff" stroke-width="1.2"/>
<path d="M706.4 286L713.4 282.1L718.1 285.2L716.5 289.9L709.5 290.7Z" class="w" stroke-width="1.1"/>
<path d="M706.4 286L710.5 288L716.5 286M710.5 288L709.5 290.7"/>
<path d="M762.4 358.3L773.3 361.4L773.3 365.3L763.2 363Z" class="w" stroke-width="1.1"/>
<path d="M762.8 360.2L773.3 363"/>
<!-- 311 loop -->
<path d="M757.8 341.2L767.1 337.3Q770.2 337.3 770.2 339.7L771 355.2L765.5 353.7" stroke-width="1.1"/>
<path d="M756.5 339.5L767.3 335.3Q772 335.3 772.1 339.7L773 357.5L765 355.7" stroke-width="1.1"/>
<!-- 311 tube -->
<path d="M718.9 282.9L717.3 296.1L718.1 307Q719.5 314 722.8 321L726.7 330.3Q728 332 730 333L753.1 345.9" stroke="#111" stroke-width="3.2"/>
<path d="M718.9 282.9L717.3 296.1L718.1 307Q719.5 314 722.8 321L726.7 330.3Q728 332 730 333L753.1 345.9" stroke="#fff" stroke-width="1.2"/>
<path d="M718.1 279L729 273.6L731.3 275.1L729.8 277.4L721.2 282.9Z" class="w" stroke-width="1.1"/>
<path d="M726 275L727.5 278.7M718.1 279L721 280.5L729 276"/>
<path d="M750.8 345.9L753.9 342.8L764.8 345.9L764 349.8L753.1 349Z" class="w" stroke-width="1.1"/>
<path d="M750.8 345.9L753.3 347.2L764.3 348"/>
</g>
<g id="valve312" class="p">
<path d="M788.9 358.3L796 362M789.3 359.9L796 363.6M788.5 370.2L795 372M788.5 371.8L795 373.6" />
<path d="M792.8 362.2L799.8 358.3L809.1 358.3L816.9 364.5L818.4 373.9L812.2 383.2L802.9 383.2L795.1 377Z" class="w" stroke-width="1.2"/>
<path d="M794 365L798.5 376L798 381M797 360.5L802.5 373.5L802 383M801.5 358.5L806.5 372.5M806 358.5L809 366"/>
<path d="M792.8 362.2Q795.5 369 795.1 377"/>
<ellipse cx="810.6" cy="371" rx="6.2" ry="11.7" transform="rotate(-12 810.6 371)" class="w" stroke-width="1.2"/>
<ellipse cx="811.3" cy="371.5" rx="4.2" ry="8" transform="rotate(-12 811.3 371.5)"/>
<ellipse cx="811.8" cy="372" rx="2.6" ry="4.6" transform="rotate(-12 811.8 372)"/>
<path d="M812 369.3L819.5 372.3L819.5 371L824 372.5Q826 374.5 825 377L820.3 376.3L819.5 377.5L811.5 375Z" class="w"/>
<path d="M816 371L816 376.3M819.5 372.3L819.5 376.3M822 372L822 376.8"/>
<ellipse cx="824.8" cy="375" rx="1.2" ry="2"/>
</g>
<g id="s329" class="p">
<path d="M830 362.5L839 364.2Q840.8 365.8 839.6 368L830 366.5Z" class="w"/>
<ellipse cx="829.2" cy="364.5" rx="2.7" ry="3.8" transform="rotate(10 829.2 364.5)" class="w"/>
<ellipse cx="830.8" cy="364.7" rx="2" ry="3" transform="rotate(10 830.8 364.7)"/>
</g>
<g id="c314" class="p">
<path d="M847 370.6L856.2 367.1L857.6 370.6L858.3 397L855.5 398.4L854.8 395.6L850 396L848.4 398.4L845.8 397.7Z" class="w" stroke-width="1.1"/>
<path d="M849.5 370L850 396M856.2 367.1L856.8 396"/>
<path d="M850 391.5L856 390L856.5 394"/>
<ellipse cx="851.9" cy="386.3" rx="1.4" ry="2.5" transform="rotate(15 851.9 386.3)"/>
<path d="M850.5 372.5Q852 373.5 853.5 371.5"/>
</g>
<g id="c315r" class="p">
<path d="M872.1 392.1Q873.5 388.5 876.2 388.2Q879 388 880.9 390" stroke-width="1.1"/>
<path d="M869.2 394.2L872.1 393.1L874.4 395.7L874.4 401.4L870 399.9Z" class="w" stroke-width="1.1"/>
<path d="M874.6 396L877 395L877 401.8L874.6 401.4Z" class="k"/>
<ellipse cx="880.4" cy="395.7" rx="3.9" ry="5.7" transform="rotate(20 880.4 395.7)" class="w" stroke-width="1.5"/>
<path d="M879 392.5L884 394.5M879.5 391Q877 395 878 399" class="t"/>
</g>
<g id="h316r" class="p">
<path d="M842.7 424.8L905.4 395.6Q913.9 392 921 397.7Q927.4 403 928.1 411.2Q925 416.5 918 417Q911 416.5 908.2 411.5L847 438.3Q842 439.5 840 434Q838.5 428 842.7 424.8Z" class="w" stroke-width="1.1"/>
<ellipse cx="844.8" cy="431.4" rx="5.2" ry="6.8" transform="rotate(-15 844.8 431.4)"/>
<ellipse cx="845" cy="431.5" rx="2.9" ry="4" transform="rotate(-15 845 431.5)"/>
<path d="M908.2 411.5Q910 408.5 913.5 407.5Q918 402 922.5 402.7"/>
<path d="M908.2 411.2Q916 406 923 407.5Q927 409 928.1 411.2"/>
</g>

<!-- 50_cord.svg -->
<g id="cord317" class="p">
<!-- wires -->
<path d="M694.7 156.8Q675 155 660.5 150.8Q640 135 630.2 114.5Q628.5 111.5 630.5 109L643.3 97.4" stroke="#111" stroke-width="2.7"/>
<path d="M694.7 156.8Q675 155 660.5 150.8Q640 135 630.2 114.5Q628.5 111.5 630.5 109L643.3 97.4" stroke="#fff" stroke-width="0.7"/>
<path d="M692.7 158.8Q670 160 650.4 155.8Q632 151 622.2 142.7Q617.5 137 617.1 130.6L617.1 119.5" stroke="#111" stroke-width="2.7"/>
<path d="M692.7 158.8Q670 160 650.4 155.8Q632 151 622.2 142.7Q617.5 137 617.1 130.6L617.1 119.5" stroke="#fff" stroke-width="0.7"/>
<path d="M639.3 93.3L645.3 88.3L651.4 91.3L646.3 97.4Z" class="w"/>
<ellipse cx="615.7" cy="115.1" rx="2.4" ry="3.5" transform="rotate(-15 615.7 115.1)" class="g" stroke-width="1.2"/>
<ellipse cx="615.7" cy="115.1" rx="0.9" ry="1.5" transform="rotate(-15 615.7 115.1)" fill="#fff" stroke="none"/>
<!-- loop -->
<path d="M704 141L697.5 153.5Q692 160.5 686 163.5Q683 164.5 683.8 162Q686 158.5 695 153.5L699 152" stroke="#111" stroke-width="2.7"/>
<path d="M704 141L697.5 153.5Q692 160.5 686 163.5Q683 164.5 683.8 162Q686 158.5 695 153.5L699 152" stroke="#fff" stroke-width="0.7"/>
<path d="M707 143L700 156Q696 162 690 165" class="t"/>
<!-- S-curve cable -->
<path d="M727 113.5Q718 114 717.5 121Q718 127 722 130Q723.5 134 719 136.6L709.8 140" stroke="#111" stroke-width="6"/>
<path d="M727 113.5Q718 114 717.5 121Q718 127 722 130Q723.5 134 719 136.6L709.8 140" stroke="#fff" stroke-width="4.1"/>
<!-- boot -->
<path d="M704 138.5L716.5 140.3L718 143.5L715 146L703.5 144Q701.5 141 704 138.5Z" class="w"/>
<path d="M709 139.3L708.3 144.8"/>
<!-- plug -->
<path d="M779.3 78.8L806.4 61.2Q811.5 59.3 817.5 65.3Q819.5 70 818.5 76L815.8 88.8L811.7 90L797.6 91.1L784.6 96.4Z" class="w" stroke-width="1.1"/>
<ellipse cx="781.1" cy="87.6" rx="6.2" ry="9.4" transform="rotate(-15 781.1 87.6)" class="w" stroke-width="1.1"/>
<ellipse cx="781.3" cy="87.2" rx="2.2" ry="3.4" transform="rotate(-15 781.3 87.2)" class="t"/>
<path d="M792.9 72.5Q798.5 80 797.6 91"/>
<path d="M806.4 61.2Q813.5 66.5 813.8 76Q813.5 84 811.7 90"/>
<path d="M787.6 82.3L812.8 68.8M789.3 85.3L815.8 73.5"/>
<path d="M799 91L809 89.8L810 87" class="t"/>
<path d="M822.3 67.6L828.1 65.9L828.7 71.2L823.4 73.5Z" class="w"/>
<circle cx="826" cy="69.3" r="0.8"/>
<path d="M816.4 64.1L820 63L820 67.6" />
<path d="M818.5 76L822 75Q826 75.3 825.8 77.6L820 79.5"/>
<!-- cord straight -->
<path d="M744.7 102.3L782.5 84Q785.5 86 784.8 89.8L747 108.2Z" class="w"/>
<path d="M754 99.5L760.5 99L761 101M757 102L763 101" class="t"/>
<!-- strain relief -->
<path d="M723.9 112Q724 109.8 726 108.8L737 103.4Q741 102 744.8 102.8Q747.5 105 746.5 109.4L741.1 114.5L730 119.8Q726 120.5 724.5 117Z" class="w" stroke-width="1.1"/>
<path d="M735 104.5Q737.5 109 736.5 116.5M737.3 103.5Q739.8 108 738.8 115.5M740 102.8Q742.3 107 741.3 114.3" />
</g>
<g id="s318" class="p">
<path d="M557.5 141.3L562 139L564 141.5L562.5 144.5L558.5 145.2Q556.3 143.5 557.5 141.3Z" class="w" stroke-width="1.1"/>
<ellipse cx="563" cy="140.8" rx="2.5" ry="3.2" transform="rotate(20 563 140.8)" class="k"/>
<ellipse cx="563.6" cy="140.3" rx="1" ry="1.4" fill="#fff" stroke="none"/>
</g>
<g id="b320" class="p">
<path d="M448.5 88.2L466.5 94L451 101.3L435.4 96.6ZM435.4 96.6L435.4 101.6L451 107L451 101.3M451 107L466.5 99.1L466.5 94" class="w"/>
</g>
<g id="sw322" class="p">
<path d="M133.3 76.3L139.3 71.4L150.4 77.4L150.9 90.6L146 99.4L134.9 97.2L132.2 96L130.5 78.5Z" class="w" stroke-width="1.1"/>
<path d="M133.3 76.3L144.8 80.2L150.4 77.4M144.8 80.2L146 99.4M133.3 76.3L134.9 97.2"/>
<path d="M136.5 74L147 79M138 72.8L148.6 78" stroke-width="1.2"/>
<path d="M131.8 79L133 95.5" class="t"/>
<path d="M147 91.5L153 90.3Q155.3 91.5 154.5 93.8L147.5 95.2Q146 93.5 147 91.5Z" class="w"/>
<path d="M147 97L153.5 96Q155.8 97.5 154.8 99.5L148 100.5Q146.2 99 147 97Z" class="w"/>
<path d="M137 97.5L144 99" stroke-width="1.5"/>
</g>
<g id="screws313" class="p" stroke-width="0.8">
<g id="sc1"><path d="M126 54.6L138.8 58.6Q140.6 59.8 139.6 61.8L138 62.6L125.2 58.6Z" class="w" stroke="#444"/><path d="M134.5 57.3L133.7 61.3" stroke="#666"/><ellipse cx="125" cy="56.5" rx="2.2" ry="3.6" transform="rotate(15 125 56.5)" class="w" stroke-width="1.7"/><ellipse cx="126.5" cy="56.8" rx="1.6" ry="2.8" transform="rotate(15 126.5 56.8)" stroke="#333"/></g>
<g id="sc2"><path d="M178.3 61.2L191.1 65.2Q192.9 66.4 191.9 68.4L190.3 69.2L177.5 65.2Z" class="w" stroke="#444"/><path d="M186.8 63.9L186 67.9" stroke="#666"/><ellipse cx="177.3" cy="63.1" rx="2.2" ry="3.6" transform="rotate(15 177.3 63.1)" class="w" stroke-width="1.7"/><ellipse cx="178.8" cy="63.4" rx="1.6" ry="2.8" transform="rotate(15 178.8 63.4)" stroke="#333"/></g>
<g id="sc3"><path d="M92.5 90.4L105.3 94.4Q107.1 95.6 106.1 97.6L104.5 98.4L91.7 94.4Z" class="w" stroke="#444"/><path d="M101 93.1L100.2 97.1" stroke="#666"/><ellipse cx="91.5" cy="92.3" rx="2.2" ry="3.6" transform="rotate(15 91.5 92.3)" class="w" stroke-width="1.7"/><ellipse cx="93" cy="92.6" rx="1.6" ry="2.8" transform="rotate(15 93 92.6)" stroke="#333"/></g>
<g id="sc4"><path d="M91.9 110.7L104.7 114.7Q106.5 115.9 105.5 117.9L103.9 118.7L91.1 114.7Z" class="w" stroke="#444"/><path d="M100.4 113.4L99.6 117.4" stroke="#666"/><ellipse cx="90.9" cy="112.6" rx="2.2" ry="3.6" transform="rotate(15 90.9 112.6)" class="w" stroke-width="1.7"/><ellipse cx="92.4" cy="112.9" rx="1.6" ry="2.8" transform="rotate(15 92.4 112.9)" stroke="#333"/></g>
<g id="sc5"><path d="M80 186.7L92.8 190.7Q94.6 191.9 93.6 193.9L92 194.7L79.2 190.7Z" class="w" stroke="#444"/><path d="M88.5 189.4L87.7 193.4" stroke="#666"/><ellipse cx="79" cy="188.6" rx="2.2" ry="3.6" transform="rotate(15 79 188.6)" class="w" stroke-width="1.7"/><ellipse cx="80.5" cy="188.9" rx="1.6" ry="2.8" transform="rotate(15 80.5 188.9)" stroke="#333"/></g>
</g>

<!-- 60_left.svg -->
<g id="left" class="p">
<!-- 315 clamp left -->
<ellipse cx="188.2" cy="312.8" rx="4.4" ry="5.7" transform="rotate(-20 188.2 312.8)" class="w"/>
<path d="M181 309.5L186 307.3M186.5 319.8L191 318" stroke-width="1.2"/>
<ellipse cx="184.1" cy="314.1" rx="4.4" ry="5.7" transform="rotate(-20 184.1 314.1)" class="w" stroke-width="1.5"/>
<path d="M184.5 311Q187.5 314 187.8 318.5" class="t"/>
<path d="M182.3 320.3L191.6 319.3L191.2 322.6L185 323.7Z" class="k"/>
<!-- 316 hose left -->
<path d="M101.1 353.7Q95.9 350.3 89 355Q80.5 361 82 368Q84 373.3 89.4 372.5L167.1 342.1Q171 341.8 173.6 344Q177.5 347 178.8 350.5L180.1 358.3L180.7 386.8Q187 390 193.7 386.8L192.4 354.4Q191.5 347 189.2 342.7Q185.5 336 180.1 332.4Q174 328.3 168.4 328.5Q164 328.8 160.7 330.4L89.4 359.6Z" class="w" stroke-width="1.1"/>
<!-- 323 tube loop (behind) -->
<path d="M260 277.6Q268.6 272.5 275 272.5Q283 275 286.7 285.3L292.8 303.5L295.8 318.6Q296.5 328 292.5 332Q288 335.5 282 333.5L250.5 322.4L225.3 312.5Q217 309 214.7 305Q211 297 208.6 289.9L203.3 267.2Q201.3 259.5 205 256.6Q208.5 254.5 213 255.9L225.3 261.2" stroke="#111" stroke-width="7.4"/>
<path d="M260 277.6Q268.6 272.5 275 272.5Q283 275 286.7 285.3L292.8 303.5L295.8 318.6Q296.5 328 292.5 332Q288 335.5 282 333.5L250.5 322.4L225.3 312.5Q217 309 214.7 305Q211 297 208.6 289.9L203.3 267.2Q201.3 259.5 205 256.6Q208.5 254.5 213 255.9L225.3 261.2" stroke="#fff" stroke-width="5.4"/>
<!-- 323 diagonal -->
<path d="M250.5 277.8L280.7 300.5L310.9 318.6Q320 324.5 326 326.1Q331 327 335.1 324.6L341.1 321.6" stroke="#111" stroke-width="5.8" stroke-linecap="butt"/>
<path d="M213 255.9L225.3 261.2L250.5 277.8L280.7 300.5" stroke="#111" stroke-width="6.8" stroke-linecap="butt"/>
<path d="M213 255.9L225.3 261.2L250.5 277.8L280.7 300.5" stroke="#fff" stroke-width="4.9" stroke-linecap="butt"/>
<path d="M249 276.8L280.7 300.5L310.9 318.6Q320 324.5 326 326.1Q331 327 335.1 324.6L342 321.2" stroke="#fff" stroke-width="3.9" stroke-linecap="butt"/>
<path d="M211.5 255.3L225.3 261.2" stroke="#fff" stroke-width="5.4" stroke-linecap="butt"/>
<ellipse cx="341.3" cy="321.5" rx="2" ry="3" transform="rotate(-25 341.3 321.5)" class="w"/>
<!-- stub -->
<path d="M246.7 283.8L260.5 277.3" stroke="#111" stroke-width="5.4" stroke-linecap="butt"/>
<path d="M246.7 283.8L259.3 277.9" stroke="#fff" stroke-width="3.6" stroke-linecap="butt"/>
<path d="M259.6 274.3Q261.6 277.3 260.9 280.8" stroke-width="2"/>
<ellipse cx="246.8" cy="283.8" rx="2.3" ry="3.1" transform="rotate(-25 246.8 283.8)" class="g" stroke-width="1.2"/>
<!-- 324 clip -->
<path d="M355.5 305.5L357 318.5" stroke-width="1.6"/>
<ellipse cx="360" cy="313" rx="2.8" ry="4" transform="rotate(-20 360 313)" stroke-width="1.2"/>
<path d="M355.5 305.5L361 309.5M357 318.5L362.5 316" />
</g>

<!-- 70_detail.svg -->
<g id="detail" class="p">
<!-- screw 330 -->
<path d="M117.5 570.2L135.1 556.9Q140 555.5 142.5 559Q144.5 562.5 143.4 564.6L125.9 579.4Z" class="w"/>
<ellipse cx="115.7" cy="580.3" rx="9.6" ry="12" transform="rotate(-28 115.7 580.3)" class="w"/>
<path d="M113.3 579.2L115.2 577.6L117.6 578.6L118 581L116.1 582.7L113.8 581.7Z" class="t"/>
<circle cx="115.7" cy="580.2" r="1.2" class="t"/>
<!-- conrod rod -->
<path d="M177.6 513.9Q200 524 227.4 546.2L286.5 569.3L281 590.5L214.5 568.3L175.7 560Z" class="w"/>
<path d="M183 519Q204 529 226 548.5L286 571.5" stroke-width="2"/>
<path d="M188.7 536.9L284.7 573.9M188.5 541L283.7 578M188 547.5L282.8 582.5M187.5 551.5L282 586.5" stroke-width="1.5"/>
<path d="M187 556L281.5 589.5" stroke-width="1.8"/>
<path d="M196 527L227 549" stroke-width="1"/>
<path d="M224 545L231 552" stroke-width="1.4"/>
<!-- big end -->
<ellipse cx="168" cy="535.5" rx="17.6" ry="28" transform="rotate(-30 168 535.5)" class="w" stroke-width="1.5"/>
<ellipse cx="167.2" cy="536" rx="16" ry="26" transform="rotate(-30 167.2 536)" stroke-width="1"/>
<ellipse cx="166.5" cy="536.5" rx="14.3" ry="24" transform="rotate(-30 166.5 536.5)" stroke-width="1.2"/>
<ellipse cx="167.5" cy="536.5" rx="11.3" ry="19" transform="rotate(-30 167.5 536.5)" stroke-width="1.3"/>
<ellipse cx="168" cy="536.8" rx="8.3" ry="14" transform="rotate(-30 168 536.8)"/>
<ellipse cx="168.5" cy="537" rx="5.4" ry="9.3" transform="rotate(-30 168.5 537)" stroke-width="1.2"/>
<ellipse cx="169.3" cy="537.6" rx="4" ry="7" transform="rotate(-30 169.3 537.6)" class="t"/>
<!-- small end flange -->
<ellipse cx="298.6" cy="586.2" rx="15" ry="29" transform="rotate(27 298.6 586.2)" class="w" stroke-width="1.2"/>
<ellipse cx="297.2" cy="587" rx="14" ry="28" transform="rotate(27 297.2 587)" class="t"/>
<ellipse cx="297.6" cy="587" rx="10.2" ry="20.5" transform="rotate(27 297.6 587)" stroke-width="1.3"/>
<ellipse cx="297.2" cy="587.4" rx="8.6" ry="17.6" transform="rotate(27 297.2 587.4)"/>
<ellipse cx="296" cy="586.5" rx="3.4" ry="5.6" transform="rotate(27 296 586.5)" stroke-width="1.2"/>
<ellipse cx="295.6" cy="586.5" rx="1.6" ry="2.8" transform="rotate(27 295.6 586.5)" class="g"/>
<path d="M284 575Q280.5 581 281.5 588" stroke-width="1.6"/>
<!-- washer -->
<ellipse cx="335.4" cy="602" rx="19.3" ry="32.5" transform="rotate(14 335.4 602)" class="w"/>
<ellipse cx="334.3" cy="602.4" rx="18.8" ry="32" transform="rotate(14 334.3 602.4)" class="t"/>
<ellipse cx="335.9" cy="602.5" rx="11.3" ry="20" transform="rotate(14 335.9 602.5)"/>
<path d="M342 584Q349 590 346 606" class="t"/>
<!-- disc -->
<ellipse cx="372.6" cy="618" rx="17" ry="28.5" transform="rotate(14 372.6 618)" class="w"/>
<ellipse cx="374.3" cy="617.6" rx="17" ry="28.5" transform="rotate(14 374.3 617.6)" class="w"/>
<ellipse cx="374.5" cy="618.4" rx="3.2" ry="5.2" transform="rotate(14 374.5 618.4)" class="g"/>
<ellipse cx="374.5" cy="618.4" rx="1.5" ry="2.6" transform="rotate(14 374.5 618.4)" fill="#fff" stroke-width="0.6"/>
<!-- small screw -->
<path d="M396 625L408.5 629.5L407.5 633L395 628.3Z" class="k"/>
<path d="M397.5 624.5L396.5 629M400 625.5L399 630M402.5 626.5L401.5 631M405 627.5L404 632" stroke="#fff" stroke-width="0.5"/>
<ellipse cx="411" cy="632.3" rx="2.7" ry="3.8" transform="rotate(15 411 632.3)" class="w" stroke-width="1.1"/>
<circle cx="411.5" cy="632.3" r="0.9"/>
<!-- sleeve -->
<path d="M450.9 616.6L478.6 631.3L462.2 691.9L429.4 676.2Q418 664 420.5 648Q426 624 442 617Q447 615.5 450.9 616.6Z" class="w"/>
<ellipse cx="481.2" cy="664.6" rx="23.2" ry="36.8" transform="rotate(14 481.2 664.6)" class="w" stroke-width="1.1"/>
<ellipse cx="480.4" cy="664.8" rx="21.8" ry="35.4" transform="rotate(14 480.4 664.8)" class="t"/>
<ellipse cx="482.2" cy="664.8" rx="18.6" ry="31.6" transform="rotate(14 482.2 664.8)" stroke-width="1.3"/>
<ellipse cx="482.6" cy="664.8" rx="17.3" ry="30" transform="rotate(14 482.6 664.8)" class="t"/>
</g>

<g id="labels" opacity="0.995" font-family="Liberation Sans, sans-serif" font-size="17.1" fill="#000" stroke="#000" stroke-width="0.55">
<text transform="translate(190.9 42.9) scale(1.175 1)" letter-spacing="0">313</text>
<text transform="translate(76.4 65.9) scale(1.175 1)" letter-spacing="0">322</text>
<text transform="translate(339.1 51.1) scale(1.175 1)" letter-spacing="0">302</text>
<text transform="translate(451.8 64.7) scale(1.175 1)" letter-spacing="0">320</text>
<text transform="translate(370.6 140.8) scale(1.175 1)" letter-spacing="0">319</text>
<text transform="translate(457.2 148.8) scale(1.175 1)" letter-spacing="0">303</text>
<text transform="translate(567.6 110.0) scale(1.175 1)" letter-spacing="0">318</text>
<text transform="translate(697.2 78.2) scale(1.175 1)" letter-spacing="0">317</text>
<text transform="translate(547.3 168.7) scale(1.175 1)" letter-spacing="0">331</text>
<text transform="translate(547.3 195.8) scale(1.175 1)" letter-spacing="0">328</text>
<text transform="translate(572.6 238.9) scale(1.175 1)" letter-spacing="0">307</text>
<text transform="translate(619.3 262.6) scale(1.175 1)" letter-spacing="0">308</text>
<text transform="translate(412.2 336.6) scale(1.175 1)" letter-spacing="0">304</text>
<text transform="translate(443.8 361.1) scale(1.175 1)" letter-spacing="0">305</text>
<text transform="translate(496.1 370.4) scale(1.175 1)" letter-spacing="0">306</text>
<text transform="translate(597.8 393.1) scale(1.175 1)" letter-spacing="0">309</text>
<text transform="translate(752.3 297.6) scale(1.175 1)" letter-spacing="0">311</text>
<text transform="translate(843.7 314.8) scale(1.175 1)" letter-spacing="0">329</text>
<text transform="translate(879.1 343.0) scale(1.175 1)" letter-spacing="0">314</text>
<text transform="translate(896.0 367.0) scale(1.175 1)" letter-spacing="0">315</text>
<text transform="translate(682.6 375.4) scale(1.175 1)" letter-spacing="0">310</text>
<text transform="translate(758.4 402.4) scale(1.175 1)" letter-spacing="0">312</text>
<text transform="translate(1055.7 326.5) scale(1.175 1)" letter-spacing="0">301</text>
<text transform="translate(836.8 467.3) scale(1.175 1)" letter-spacing="0">316</text>
<text transform="translate(131.8 287.6) scale(1.175 1)" letter-spacing="0">315</text>
<text transform="translate(89.0 322.4) scale(1.175 1)" letter-spacing="0">316</text>
<text transform="translate(217.2 364.6) scale(1.175 1)" letter-spacing="0">323</text>
<text transform="translate(317.9 368.6) scale(1.175 1)" letter-spacing="0">324</text>
<text transform="translate(450.6 521.5) scale(1.175 1)" letter-spacing="0">325</text>
<text transform="translate(269.4 688.5) scale(1.175 1)" letter-spacing="0">327</text>
<text transform="translate(138.3 619.6) scale(1.175 1)" letter-spacing="0">330</text>
</g>
<g id="leaders" stroke="#111" stroke-width="0.9" fill="none">
<path d="M189.6 48.3H224.6"/>
<path d="M76.0 70.5H109.5"/>
<path d="M338.5 55.4H372.8"/>
<path d="M451.3 69.3H485.0"/>
<path d="M369.4 145.4H404.0"/>
<path d="M456.0 154.0H490.0"/>
<path d="M566.5 115.3H600.5"/>
<path d="M697.0 83.7H729.7"/>
<path d="M546.5 173.7H580.0"/>
<path d="M546.5 200.7H580.5"/>
<path d="M571.7 244.1H605.0"/>
<path d="M618.4 268.1H652.5"/>
<path d="M411.4 341.8H446.7"/>
<path d="M443.4 365.8H477.0"/>
<path d="M495.5 375.4H530.6"/>
<path d="M597.0 398.6H631.6"/>
<path d="M750.7 302.5H784.8"/>
<path d="M842.9 319.4H877.0"/>
<path d="M877.7 348.0H911.8"/>
<path d="M894.6 372.5H928.7"/>
<path d="M682.0 380.8H716.1"/>
<path d="M757.8 407.3H791.9"/>
<path d="M1054.0 331.8H1088.0"/>
<path d="M836.2 472.0H870.8"/>
<path d="M130.8 292.2H165.0"/>
<path d="M88.5 327.0H122.8"/>
<path d="M216.4 369.9H250.7"/>
<path d="M317.0 373.6H351.8"/>
<path d="M449.0 527.0H483.8"/>
<path d="M268.5 693.9H304.4"/>
<path d="M136.4 624.3H171.6"/>
<path d="M189.6 48.3L183.7 61.2"/>
<path d="M109.5 70.5L129.9 78.0"/>
<path d="M338.5 55.4L332.4 70.5"/>
<path d="M451.3 69.3L448.5 88.2"/>
<path d="M369.4 145.4L353.8 183.2"/>
<path d="M456.0 154.0L456.0 178.0"/>
<path d="M566.5 115.3L562.8 138.2"/>
<path d="M729.7 83.7L733.7 103.0"/>
<path d="M546.5 173.7L520.0 178.0"/>
<path d="M546.5 200.7L523.7 204.5"/>
<path d="M571.7 244.1L566.7 274.0"/>
<path d="M618.4 268.1L611.6 281.5"/>
<path d="M446.7 341.8L461.4 315.3"/>
<path d="M477.0 365.8L491.0 324.0"/>
<path d="M530.6 375.4L535.9 324.0"/>
<path d="M631.6 398.6L640.0 368.8"/>
<path d="M750.7 302.5L724.5 318.3"/>
<path d="M842.9 319.4L834.5 363.6"/>
<path d="M877.7 348.0L856.8 373.7"/>
<path d="M894.6 372.5L882.0 391.4"/>
<path d="M716.1 380.8L721.2 349.2"/>
<path d="M791.9 407.3L805.5 385.1"/>
<path d="M1088.0 331.8L1102.8 354.2"/>
<path d="M870.8 472.0L882.3 422.7"/>
<path d="M165.0 292.2L185.6 310.0"/>
<path d="M122.8 327.0L129.4 342.0"/>
<path d="M250.7 369.9L265.0 332.8"/>
<path d="M351.8 373.6L359.7 317.6"/>
<path d="M136.4 624.3L122.3 588.0"/>
<path d="M449.0 527.0L268.5 558.9"/>
<path d="M449.0 527.0L349.2 569.6"/>
<path d="M449.0 527.0L382.0 589.8"/>
<path d="M449.0 527.0L408.6 627.7"/>
<path d="M449.0 527.0L451.5 616.4"/>
<path d="M304.4 693.9L328.4 634.6"/>
<path d="M304.4 693.9L408.0 635.6"/>
<path d="M304.4 693.9L445.8 686.1"/>
</g>
</svg>
</body></html>
